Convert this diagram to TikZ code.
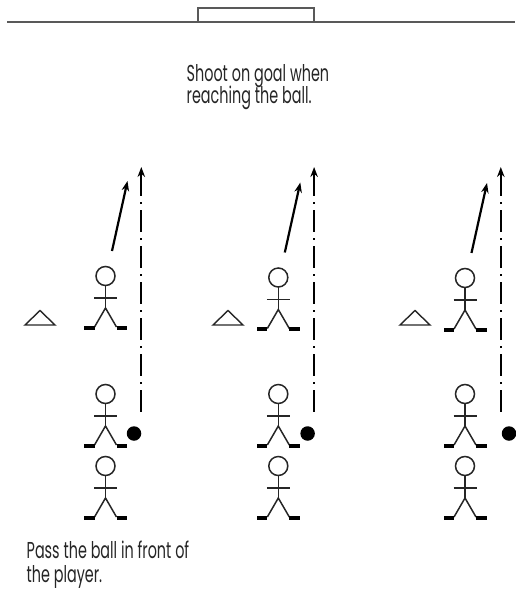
\documentclass[tikz,border=0pt]{standalone}
\usepackage{fontspec}
\setmainfont{Poppins}[FakeStretch=0.625]
\usetikzlibrary{arrows.meta}
\tikzset{
  figline/.style={line width=1.5pt, draw=black!85},
  footbar/.style={fill=black},
  cone/.style={draw=black!85, line width=1.4pt},
  ball/.style={circle, fill=black, inner sep=0pt, minimum size=14.5pt},
  fieldline/.style={draw=black!65, line width=1.6pt},
  run/.style={line width=2.2pt, -{Stealth[length=10pt,width=7.5pt]}},
  pass/.style={line width=2.2pt, dash pattern=on 22pt off 6pt on 2pt off 6pt, -{Stealth[length=10pt,width=7.5pt]}},
  note/.style={anchor=base west, inner sep=0pt, text=black!85, font=\fontsize{23}{25}\selectfont},
  pics/player/.style={code={
    \draw[figline] (0,0) circle (9.5);
    \draw[figline] (0,9.5) -- (0,32);
    \draw[figline] (-11.5,22) -- (11.5,22);
    \draw[figline] (-11,51) -- (0,32) -- (11,51);
    \fill[footbar] (-21.5,49.5) rectangle (-11,53.8);
    \fill[footbar] (11,49.5) rectangle (21.5,53.8);
  }}
}
\begin{document}
\begin{tikzpicture}[x=1pt,y=-1pt]
\useasboundingbox (0,0) rectangle (515,596);

% goal line and goal
\draw[fieldline] (7,22) -- (515,22);
\draw[fieldline] (198,22) -- (198,8) -- (314,8) -- (314,22);

% instructions
\node[note] (shoot1) at (186.5,81.7) {Shoot on goal when};
\node[note] (shoot2) at (186.5,104) {reaching the ball.};
\node[note] (pass1) at (26.5,558) {Pass the ball in front of};
\node[note] (pass2) at (26.5,582) {the player.};

% three stations: (player x, head y of first row, cone x, ball x)
\foreach \px/\hy/\cx/\bx/\k in {105.5/276/40/134/1, 278.3/277.5/228/307.6/2, 465/278/415/509/3}{
  % cone
  \draw[cone] (\cx-15,325) -- (\cx+15,325) -- (\cx,310.5) -- cycle;
  % players
  \pic (front\k) at (\px,\hy) {player};
  \pic (mid\k) at (\px,394) {player};
  \pic (back\k) at (\px,466) {player};
  % ball
  \node[ball] (ball\k) at (\bx,433.5) {};
  % run of the front player
  \coordinate (runA\k) at (\px+6.5,\hy-25);
  \coordinate (runB\k) at (\px+22,\hy-95);
  \draw[run] (runA\k) -- (runB\k);
  % pass path
  \coordinate (passA\k) at (\px+35.8,411.5);
  \coordinate (passB\k) at (\px+35.8,167);
  \draw[pass] (passA\k) -- (passB\k);
}
\end{tikzpicture}
\end{document}
